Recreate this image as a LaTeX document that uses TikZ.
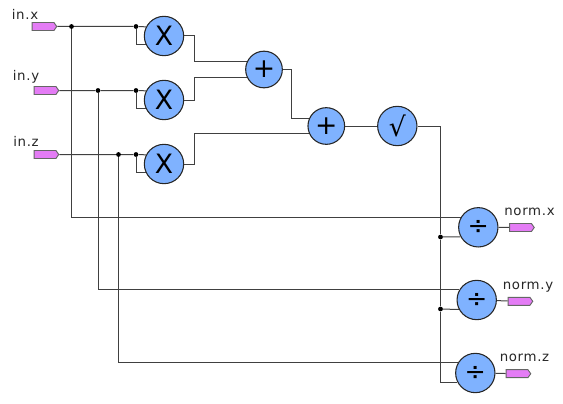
\documentclass[tikz,border=0pt]{standalone}
\usepackage{fontspec}
\setmainfont{DejaVu Sans}
\newfontfamily\tagfont[LetterSpace=5]{DejaVu Sans}
\usetikzlibrary{shapes.symbols}
\definecolor{opblue}{HTML}{7FB2FF}
\definecolor{portpink}{HTML}{E47CF5}
\tikzset{
  opnode/.style={circle, draw=black!85, line width=0.8pt, fill=opblue, inner sep=0pt, minimum size=29.5pt},
  opsmall/.style={opnode, minimum size=27.5pt},
  port/.style={signal, signal to=east, signal pointer angle=110, draw=black!60, line width=0.7pt, fill=portpink, inner sep=0pt, minimum width=18.5pt, minimum height=6pt},
  tag/.style={inner sep=0pt, text=black!85, font=\tagfont\fontsize{10}{12}\selectfont},
  dot/.style={circle, fill=black, inner sep=0pt, minimum size=3.6pt},
  wire/.style={line width=0.75pt, black!75},
}
\begin{document}
\begin{tikzpicture}[x=0.75pt, y=-0.75pt]
        \useasboundingbox (0,0) rectangle (563,403);
        % inputs
        \node[port] (inx) at (43,26.5) {};
        \node[port] (iny) at (45,90.5) {};
        \node[port] (inz) at (45,154.5) {};
        \node[tag] (lblinx) at (25,14) {in.x};
        \node[tag] (lbliny) at (26,77) {in.y};
        \node[tag] (lblinz) at (26,141) {in.z};
        % operators
        \node[opnode, font=\fontsize{20}{20}\selectfont] (mulx) at (164,36) {X};
        \node[opnode, font=\fontsize{20}{20}\selectfont] (muly) at (164,100) {X};
        \node[opnode, font=\fontsize{20}{20}\selectfont] (mulz) at (164,164) {X};
        \node[opsmall, font=\fontsize{20}{20}\selectfont] (addxy) at (264,69.5) {+};
        \node[opsmall, font=\fontsize{20}{20}\selectfont] (addz) at (326.3,126) {+};
        \node[opnode, font=\fontsize{20}{20}\selectfont] (root) at (397.3,126) {√};
        \node[opnode, font=\fontsize{19}{19}\selectfont] (divx) at (478.3,227.3) {÷};
        \node[opnode, font=\fontsize{19}{19}\selectfont] (divy) at (476.7,300) {÷};
        \node[opnode, font=\fontsize{19}{19}\selectfont] (divz) at (475.3,373) {÷};
        % outputs
        \node[port] (outx) at (520.5,227.5) {};
        \node[port] (outy) at (519,301.3) {};
        \node[port] (outz) at (517,373.7) {};
        \node[tag] (lbloutx) at (529.5,212) {norm.x};
        \node[tag] (lblouty) at (528,287) {norm.y};
        \node[tag] (lbloutz) at (524.5,358) {norm.z};
        % junctions
        \node[dot] (jx) at (71.5,26.5) {};
        \node[dot] (jy) at (98,90.5) {};
        \node[dot] (jz) at (118.5,154.5) {};
        \node[dot] (sqx) at (136,26.5) {};
        \node[dot] (sqy) at (136,90.5) {};
        \node[dot] (sqz) at (136,154.5) {};
        \node[dot] (jdx) at (440.5,237) {};
        \node[dot] (jdy) at (440.5,309) {};
        % wires
        \draw[wire] (inx) -- (jx) -- (sqx) -- (mulx.153);
        \draw[wire] (iny) -- (jy) -- (sqy) -- (muly.153);
        \draw[wire] (inz) -- (jz) -- (sqz) -- (mulz.153);
        \draw[wire] (sqx) |- (mulx.205);
        \draw[wire] (sqy) |- (muly.205);
        \draw[wire] (sqz) |- (mulz.205);
        \draw[wire] (mulx.east) -- ++(10,0) |- (addxy.155);
        \draw[wire] (muly.east) -- ++(10,0) |- (addxy.205);
        \draw[wire] (mulz.east) -- ++(10,0) |- (addz.205);
        \draw[wire] (addxy.east) -- ++(9,0) |- (addz.155);
        \draw[wire] (addz) -- (root);
        \draw[wire] (root.east) -| (jdx) -- (jdy) |- (divz.208);
        \draw[wire] (jdx) -- (divx.208);
        \draw[wire] (jdy) -- (divy.208);
        \draw[wire] (jx) |- (divx.150);
        \draw[wire] (jy) |- (divy.150);
        \draw[wire] (jz) |- (divz.150);
        \draw[wire] (divx) -- (outx);
        \draw[wire] (divy) -- (outy);
        \draw[wire] (divz) -- (outz);
      \end{tikzpicture}
\end{document}
